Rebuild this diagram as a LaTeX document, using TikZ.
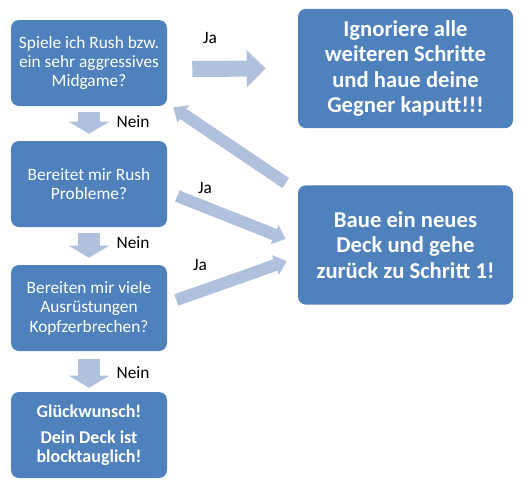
\documentclass[tikz,border=0pt]{standalone}
\usepackage{fontspec}
\setmainfont{Carlito}
\usetikzlibrary{arrows.meta}
\definecolor{boxblue}{RGB}{79,129,189}
\definecolor{arrowblue}{RGB}{176,193,222}
\tikzset{
  box/.style={fill=boxblue, rounded corners=6pt, text=white, align=center,
    minimum width=117pt, minimum height=64.5pt, inner sep=2pt,
    font=\fontsize{13}{14.6}\selectfont},
  bigbox/.style={box, minimum width=161.25pt, minimum height=89.5pt,
    font=\bfseries\fontsize{17}{19.1}\selectfont},
  lbl/.style={font=\fontsize{13}{15}\selectfont},
  nein/.style={draw=arrowblue, line width=16.5pt, -{Triangle[length=9pt,width=30pt]}},
  ja/.style={draw=arrowblue, line width=12pt, -{Triangle[length=14.25pt,width=27pt]}},
  back/.style={draw=arrowblue, line width=9pt, -{Triangle[length=9pt,width=15pt]}},
}
\begin{document}
\begin{tikzpicture}[x=0.75pt, y=-0.75pt]
\useasboundingbox (0,0) rectangle (524,486);
\node[box] (q1) at (89,  63) {Spiele ich Rush bzw.\\ ein sehr aggressives\\ Midgame?};
\node[box] (q2) at (89, 184) {Bereitet mir Rush\\ Probleme?};
\node[box] (q3) at (89, 308) {Bereiten mir viele\\ Ausrüstungen\\ Kopfzerbrechen?};
\node[box, font=\bfseries\fontsize{13.5}{14.4}\selectfont] (ok) at (89, 435)
  {Glückwunsch!\\[5pt] Dein Deck ist\\ blocktauglich!};
\node[bigbox] (rush) at (405.5,  68.5) {Ignoriere alle\\ weiteren Schritte\\ und haue deine\\ Gegner kaputt!!!};
\node[bigbox] (neu)  at (405.5, 245)   {Baue ein neues\\ Deck und gehe\\ zurück zu Schritt 1!};

\draw[nein] ([shift={(0,6)}]q1.south) -- ([shift={(0,-7)}]q2.north);
\draw[nein] ([shift={(0,6)}]q2.south) -- ([shift={(0,-7)}]q3.north);
\draw[nein] ([shift={(0,8)}]q3.south) -- ([shift={(0,-4)}]ok.north);
\draw[ja]   ([shift={(25,6)}]q1.east) -- ([shift={(-32,0)}]rush.west);
\draw[back] ([shift={(-12,-2)}]neu.north west) -- ([shift={(6,1)}]q1.south east);
\draw[back] ([shift={(10,12)}]q2.east) -- ([shift={(-12,-6)}]neu.west);
\draw[back] ([shift={(9,-8)}]q3.east) -- ([shift={(-11,16)}]neu.west);

\node[lbl] (n1) at (133, 122) {Nein};
\node[lbl] (n2) at (133, 243) {Nein};
\node[lbl] (n3) at (133, 373) {Nein};
\node[lbl] (j1) at (210,  38) {Ja};
\node[lbl] (j2) at (205, 188) {Ja};
\node[lbl] (j3) at (200, 265) {Ja};
\end{tikzpicture}
\end{document}
